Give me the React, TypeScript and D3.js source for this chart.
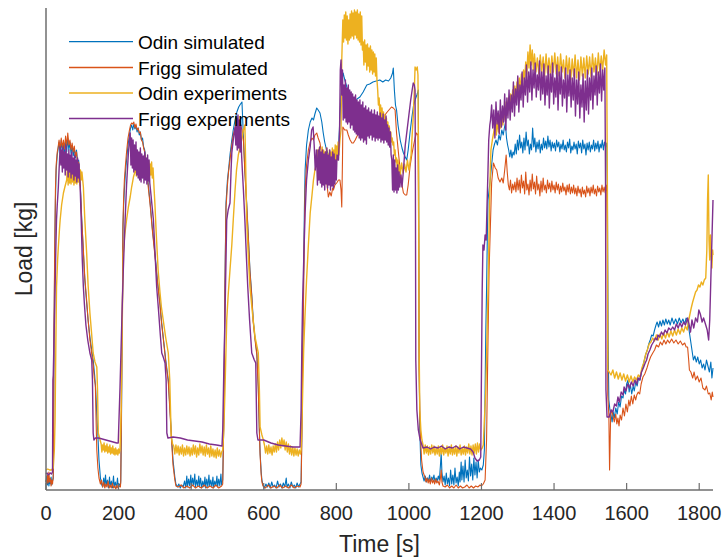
import React from "react";
import * as d3 from "d3";

type P = [number, number];

const seriesNames = ["Odin simulated", "Frigg simulated", "Odin experiments", "Frigg experiments"];
const seriesColors = ["#0072BD", "#D95319", "#EDB120", "#7E2F8E"];
const xTicks = [0, 200, 400, 600, 800, 1000, 1200, 1400, 1600, 1800];

// Odin simulated (time [s], load)
const odinSimulated: P[] = [
[0,8],[2,14],[4,5],[6,12],[8,4],[10,10],[12,6],[14,13],[16,5],[18,9],[20,12],
[21,60],[22,150],[24,230],[26,290],[28,320],[31,335],[33,340],
[36,348],[39,336],[42,350],[45,338],[48,346],[51,335],[54,350],[57,338],[60,352],[63,340],[66,348],[69,336],[72,345],[75,334],[78,342],[81,332],[84,340],[87,328],[90,330],[92,318],
[94,310],[98,275],[103,237],[107,210],[112,187],[116,170],[121,153],[126,140],[130,130],[134,115],[137,100],[140,75],[143,55],[146,30],[150,12],[153,6],
[156,3],[159,12],[161,3],[164,15],[166,4],[169,10],[172,2],[175,13],[177,3],[180,9],[183,2],[186,14],[188,3],[191,8],[194,2],[197,12],[199,3],[202,6],[205,4],
[206,10],[208,70],[209,120],[211,200],[212,260],[214,285],[216,300],[219,318],[222,330],[226,345],[230,355],[233,362],
[236,365],[239,360],[242,366],[245,361],[248,364],[251,358],[254,362],[257,355],[260,358],[263,350],[266,352],[269,343],[272,340],[275,330],[278,320],
[282,305],[287,287],[293,262],[300,237],[307,210],[314,187],[318,170],[323,153],[330,130],[337,110],[341,85],[346,53],[350,30],[355,13],[358,6],
[362,3],[366,6],[370,2],[374,5],[378,3],[382,9],[385,2],[388,14],[390,3],[393,11],[396,4],[399,15],[401,3],[404,12],[407,5],[410,16],[412,3],[415,10],[418,4],[421,14],[423,3],[426,12],[429,2],[432,9],[435,3],[438,13],[440,2],[443,11],[446,3],[449,15],[451,4],[454,10],[457,3],[460,13],[462,2],[465,9],[468,4],[471,14],[473,3],[476,11],[479,4],[482,16],[484,5],[487,10],
[489,50],[491,103],[493,203],[496,287],[500,310],[503,320],[507,335],[512,350],[516,360],[521,370],[526,378],[531,383],[536,386],[540,388],
[544,353],[548,320],[553,287],[558,250],[562,220],[567,195],[571,170],[576,152],[581,137],[585,103],[588,60],[590,37],[593,18],[595,10],[598,5],
[602,2],[606,6],[610,3],[614,7],[618,2],[622,8],[626,3],[630,5],[634,2],[638,9],[642,3],[646,6],[650,2],[654,7],[658,3],[662,12],[664,3],[668,6],[672,2],[676,8],[680,3],[684,5],[688,2],[692,7],[696,3],[700,6],[703,8],
[705,60],[707,140],[710,220],[712,280],[714,320],[718,345],[723,360],[728,368],[733,372],[737,370],[741,376],[746,382],[750,380],[755,377],[760,368],[764,357],[768,348],[773,340],[778,336],[784,334],[792,333],[798,336],[806,340],[810,373],[813,395],[816,410],[819,417],[822,412],[825,408],[829,403],[833,395],[838,390],[843,388],[850,390],[857,391],[865,393],[874,398],[884,405],[892,406],[901,408],[910,409],[920,410],[928,408],[936,410],[944,409],[950,412],[955,417],[957,422],[960,400],[963,385],[966,380],[970,365],[976,350],[981,342],[985,337],[990,333],[994,330],[998,340],[1003,357],[1008,372],[1013,385],[1017,390],[1022,395],[1026,400],[1027,300],
[1028,150],[1030,60],[1033,25],[1036,17],[1039,13],
[1042,9],[1045,14],[1048,8],[1051,12],[1054,9],[1057,15],[1060,8],[1063,13],[1066,10],[1069,15],[1072,8],[1075,12],[1078,9],[1081,14],[1084,10],[1087,25],[1089,37],[1091,18],[1094,8],[1097,14],[1100,5],[1103,17],[1106,6],[1109,12],[1112,4],[1115,20],[1118,6],[1121,15],[1124,5],[1127,22],[1130,7],[1133,13],[1136,4],[1139,18],[1141,8],[1144,28],[1146,10],[1149,24],[1152,8],[1155,30],[1158,12],[1161,20],[1164,9],[1167,33],[1170,14],[1173,26],[1176,10],[1179,32],[1182,15],[1185,28],[1188,12],[1191,30],[1194,18],[1197,22],[1201,20],[1205,25],[1208,40],
[1210,100],[1212,160],[1214,200],[1216,250],[1218,290],[1221,300],[1224,310],[1228,325],[1232,340],[1236,346],[1240,350],[1244,345],[1248,355],[1252,350],[1256,360],[1260,355],[1263,362],[1266,367],[1269,352],[1272,345],[1275,340],[1278,333],[1281,340],[1284,332],[1287,338],[1290,335],
[1293,346],[1296,336],[1299,350],[1302,340],[1305,355],[1308,342],[1311,348],[1314,337],[1317,352],[1320,340],[1323,358],[1326,344],[1329,350],[1332,336],[1335,346],[1338,340],[1341,362],[1344,343],[1347,352],[1350,338],[1353,348],[1356,341],[1359,350],[1362,337],[1365,346],[1368,340],[1371,352],[1374,342],[1377,349],[1380,341],[1383,354],[1386,343],[1389,350],[1392,339],[1395,348],[1398,342],[1401,347],[1404,339],[1407,350],[1410,343],[1413,348],[1416,338],[1419,346],[1422,341],[1425,350],[1428,340],[1431,345],[1434,338],[1437,348],[1440,342],[1443,351],[1446,337],[1449,344],[1452,340],[1455,348],[1458,341],[1461,346],[1464,336],[1467,349],[1470,342],[1473,347],[1476,337],[1479,350],[1482,341],[1485,346],[1488,335],[1491,347],[1494,340],[1497,348],[1500,338],[1503,345],[1506,341],[1509,350],[1512,339],[1515,347],[1518,341],[1521,349],[1524,338],[1527,346],[1530,342],[1533,350],[1536,340],[1539,348],[1542,343],[1545,347],
[1547,300],[1549,150],[1551,90],[1554,80],
[1557,75],[1560,68],[1563,78],[1566,72],[1570,82],[1574,76],[1578,88],[1582,83],[1586,94],[1590,92],[1593,100],[1597,96],[1600,106],[1604,110],[1607,98],[1610,106],[1614,96],[1618,104],[1621,99],[1625,108],[1629,104],[1633,112],[1637,110],[1641,118],[1645,124],[1649,130],[1653,136],[1657,140],[1661,146],[1665,150],[1669,155],[1673,154],[1677,160],[1681,165],[1684,168],[1688,163],[1692,169],[1696,164],[1700,170],[1704,165],[1708,171],[1712,166],[1716,170],[1720,165],[1725,172],[1730,166],[1735,171],[1740,166],[1745,172],[1750,167],[1755,171],[1760,166],[1764,172],[1768,170],[1772,160],[1776,150],[1780,140],[1784,130],[1788,134],[1792,128],[1796,133],[1800,126],[1804,130],[1808,122],[1812,126],[1816,120],[1820,130],[1824,124],[1828,118],[1832,128],[1835,112],[1838,122]
];

// Frigg simulated
const friggSimulated: P[] = [
[0,10],[2,6],[4,15],[6,7],[8,18],[10,8],[12,12],[14,4],[16,10],[18,6],[20,14],
[21,70],[22,160],[24,240],[26,300],[28,325],[31,338],[33,342],
[36,350],[39,340],[42,352],[45,342],[48,350],[51,341],[54,354],[57,344],[60,357],[63,345],[66,350],[69,340],[72,347],[75,338],[78,344],[81,334],[84,338],[87,326],[90,328],[92,316],
[94,308],[98,272],[103,240],[107,212],[112,190],[116,170],[121,150],[126,136],[130,125],[133,112],[136,105],[138,70],[140,40],[143,22],[146,12],[150,6],
[153,10],[156,3],[159,8],[162,2],[165,6],[168,3],[171,9],[174,2],[177,5],[180,2],[183,7],[186,2],[189,4],[192,1],[195,5],[198,2],[201,4],[205,3],
[206,8],[208,80],[209,130],[211,210],[212,265],[214,292],[216,310],[219,325],[222,338],[226,352],[230,360],[233,365],[236,367],[239,366],[242,368],[245,362],[248,366],[251,360],[254,362],[257,357],[260,358],[263,350],[266,348],[269,342],[272,338],[275,327],[278,318],
[282,302],[287,285],[293,260],[300,235],[307,208],[314,185],[318,168],[323,152],[330,128],[337,108],[341,82],[346,50],[350,25],[355,10],[358,4],
[365,3],[372,5],[380,2],[388,4],[396,2],[404,5],[412,2],[420,4],[428,2],[436,5],[444,2],[452,4],[460,2],[468,5],[476,2],[484,4],[487,6],
[489,50],[491,100],[493,200],[496,282],[500,305],[503,318],[507,330],[512,345],[516,355],[521,362],[526,366],[531,367],[536,365],[540,360],[544,350],[548,318],[553,285],[558,248],[562,218],[567,193],[571,168],[576,150],[581,135],[585,100],[588,58],[590,35],[593,15],[595,8],[598,4],
[605,2],[612,5],[620,2],[628,4],[636,2],[644,5],[652,2],[660,4],[668,2],[676,5],[684,2],[692,4],[700,3],[703,6],
[705,50],[707,120],[710,200],[712,260],[714,300],[718,325],[723,340],[728,348],[733,352],[737,350],[741,355],[746,357],[750,352],[755,347],[760,335],[764,323],[768,315],[773,310],[776,300],[778,293],[782,298],[786,294],[790,302],[792,300],[796,305],[801,307],[806,310],[810,310],[813,300],[815,283],[817,330],[818,363],[823,360],[829,360],[833,355],[838,350],[843,347],[847,347],[852,350],[856,353],[860,356],[865,358],[870,360],[875,358],[884,360],[893,361],[902,363],[911,365],[920,367],[929,372],[938,377],[945,380],[952,383],[957,382],[962,380],[966,357],[971,338],[976,320],[981,305],[985,297],[990,295],[994,295],[998,305],[1003,323],[1008,335],[1012,343],[1017,352],[1021,357],[1025,355],[1027,250],
[1028,120],[1031,60],[1035,30],[1039,18],[1044,13],
[1047,8],[1050,12],[1053,7],[1056,11],[1059,6],[1062,12],[1065,7],[1068,10],[1071,6],[1074,11],[1077,7],[1080,9],[1084,5],[1087,12],[1089,20],[1091,8],[1094,4],[1100,3],[1106,5],[1112,2],[1118,4],[1124,2],[1130,5],[1136,2],[1142,4],[1148,2],[1154,3],[1160,5],[1166,2],[1172,4],[1178,2],[1184,4],[1190,3],[1196,5],[1200,4],[1205,6],[1210,10],
[1214,50],[1218,150],[1221,220],[1224,257],[1228,307],[1233,327],[1238,322],[1242,320],[1246,312],[1251,308],[1256,312],[1260,307],[1264,320],[1268,335],[1271,318],[1274,305],[1277,300],[1280,310],[1283,297],[1286,306],[1289,300],
[1292,308],[1295,298],[1298,312],[1301,300],[1304,310],[1307,297],[1310,315],[1313,302],[1316,309],[1319,296],[1322,318],[1325,300],[1328,306],[1331,295],[1334,310],[1337,299],[1340,316],[1343,301],[1346,308],[1349,296],[1352,314],[1355,300],[1358,306],[1361,294],[1364,309],[1367,298],[1370,312],[1373,300],[1376,305],[1379,297],[1382,310],[1385,301],[1388,307],[1391,298],[1394,309],[1397,300],[1400,305],[1403,297],[1406,308],[1409,300],[1412,306],[1415,296],[1418,304],[1421,298],[1424,307],[1427,299],[1430,303],[1433,295],[1436,305],[1439,298],[1442,306],[1445,296],[1448,303],[1451,297],[1454,305],[1457,296],[1460,302],[1463,294],[1466,304],[1469,297],[1472,301],[1475,293],[1478,303],[1481,296],[1484,300],[1487,293],[1490,304],[1493,297],[1496,302],[1499,294],[1502,303],[1505,297],[1508,305],[1511,296],[1514,301],[1517,294],[1520,304],[1523,298],[1526,302],[1529,295],[1532,305],[1535,298],[1538,303],[1541,297],[1545,305],
[1547,250],[1548,95],[1551,75],[1553,20],[1556,75],[1559,80],
[1562,75],[1566,68],[1570,76],[1573,66],[1576,72],[1579,64],[1582,75],[1586,70],[1590,82],[1594,74],[1598,86],[1602,78],[1606,90],[1609,84],[1613,94],[1617,86],[1621,95],[1625,90],[1628,95],[1632,98],[1636,96],[1640,106],[1645,113],[1650,116],[1656,122],[1661,128],[1666,133],[1672,137],[1677,140],[1682,145],[1688,143],[1693,148],[1698,145],[1703,150],[1708,146],[1713,150],[1718,147],[1724,151],[1730,147],[1736,150],[1742,146],[1748,149],[1754,145],[1760,147],[1764,143],[1768,143],[1771,130],[1773,120],[1777,118],[1782,112],[1786,118],[1790,110],[1795,114],[1800,108],[1805,112],[1810,102],[1816,100],[1820,104],[1825,96],[1829,97],[1833,90],[1836,98],[1838,93]
];

// Odin experiments
const odinExperiments: P[] = [
[0,20],[5,21],[10,20],[15,20],[20,22],[23,40],[25,70],[27,140],[29,203],[32,230],[34,243],[37,260],[39,270],[43,285],[48,297],[52,303],[57,310],
[59,322],[61,305],[63,325],[65,307],[67,323],[69,306],[71,325],[73,308],[75,322],[77,305],[79,324],[81,307],[83,320],[85,306],[87,324],[89,308],[91,322],[93,305],[95,320],[97,310],[99,318],
[103,303],[107,270],[112,237],[116,205],[121,177],[126,155],[130,137],[135,128],[140,123],[142,100],[144,57],[149,50],
[152,46],[154,38],[156,45],[158,40],[160,47],[162,38],[164,44],[166,39],[168,46],[170,37],[172,43],[174,38],[176,45],[178,36],[180,42],[182,37],[184,44],[186,36],[188,41],[190,35],[192,42],[194,36],[196,40],[198,35],[200,41],[202,37],[204,40],
[207,80],[209,137],[211,190],[213,237],[217,255],[222,270],[227,283],[232,293],[236,303],[241,313],[245,318],
[247,328],[249,314],[251,330],[253,316],[255,332],[257,315],[259,330],[261,313],[263,329],[265,316],[267,331],[269,314],[271,328],[273,315],[275,330],[277,312],[279,327],[281,316],[283,329],[285,313],[287,326],[289,315],[291,328],[293,312],[295,322],
[298,300],[300,287],[304,255],[309,220],[314,198],[318,183],[323,170],[330,152],[337,137],[341,110],[345,53],[349,46],
[352,44],[355,36],[358,45],[361,37],[364,44],[367,35],[370,43],[373,36],[376,45],[379,34],[382,42],[385,35],[388,44],[391,36],[394,43],[397,34],[400,42],[403,35],[406,45],[409,36],[412,44],[415,33],[418,42],[421,35],[424,46],[427,37],[430,44],[433,35],[436,43],[439,34],[442,45],[445,36],[448,42],[451,33],[454,44],[457,34],[460,41],[463,33],[466,40],[469,32],[472,42],[475,34],[478,40],[481,33],[484,38],[487,40],
[490,60],[493,97],[496,140],[498,170],[502,195],[507,220],[512,245],[516,270],[521,300],[525,320],[530,335],[535,343],[540,352],[544,360],[548,365],[550,330],
[553,270],[558,230],[562,203],[568,180],[576,153],[585,137],[588,100],[590,63],[595,55],[599,50],
[602,45],[605,37],[608,44],[611,36],[614,45],[617,37],[620,43],[623,35],[626,44],[629,38],[632,46],[635,38],[638,48],[641,40],[644,50],[647,42],[650,52],[653,44],[656,50],[659,40],[662,48],[665,38],[668,46],[671,36],[674,44],[677,35],[680,43],[683,34],[686,42],[689,35],[692,41],[695,34],[698,40],[701,36],[703,40],
[706,77],[710,140],[714,177],[718,210],[723,245],[728,277],[733,295],[737,310],[741,320],[746,327],
[749,340],[751,318],[753,342],[755,320],[757,338],[759,317],[761,343],[763,320],[765,340],[767,316],[769,338],[771,320],[773,342],[775,318],[777,336],[779,316],[781,340],[783,320],[785,338],[787,318],[789,342],[791,321],[793,340],[795,324],[797,345],[799,326],[801,344],[803,330],[805,348],[807,335],[810,350],
[813,360],[815,430],[818,470],
[820,448],[822,475],[824,452],[826,478],[828,450],[830,474],[832,446],[834,470],[836,450],[838,476],[840,452],[842,479],[844,454],[846,477],[848,451],[850,480],[852,455],[854,478],[856,452],[858,480],[860,450],[862,476],[864,448],[866,478],[868,445],[870,474],[872,440],
[874,448],[876,425],[878,450],[880,428],[882,445],[884,420],[886,446],[888,424],[890,442],[892,418],[894,444],[896,420],[898,440],[900,416],[902,438],[904,418],[906,436],[908,414],[910,432],[912,410],
[914,400],[916,385],[918,392],[920,375],[922,385],[924,370],[926,382],[928,366],[930,378],[932,364],[934,375],[936,362],[938,372],[940,360],[942,368],[944,355],[946,364],[948,352],[950,358],[952,348],[954,352],[956,345],[958,348],[960,335],[962,340],[964,328],[966,332],[968,320],[970,330],[972,318],[974,325],[976,315],[980,327],[984,317],[988,326],[992,318],[996,330],[1000,320],[1003,328],[1006,335],[1009,355],[1012,373],[1015,400],[1017,423],[1020,420],[1023,423],[1025,415],[1027,300],
[1028,150],[1030,80],[1033,60],[1036,50],[1039,45],
[1042,36],[1045,45],[1048,37],[1051,44],[1054,35],[1057,43],[1060,36],[1063,45],[1066,37],[1069,44],[1072,35],[1075,42],[1078,36],[1081,44],[1084,34],[1087,43],[1090,36],[1093,45],[1096,35],[1099,42],[1102,37],[1105,44],[1108,34],[1111,43],[1114,36],[1117,45],[1120,35],[1123,42],[1126,36],[1129,44],[1132,34],[1135,43],[1138,37],[1141,45],[1144,35],[1147,42],[1150,36],[1153,44],[1156,35],[1159,43],[1162,37],[1165,46],[1168,36],[1171,44],[1174,35],[1177,45],[1180,37],[1183,46],[1186,36],[1189,47],[1192,38],[1195,46],[1198,40],[1202,42],
[1205,45],[1208,70],[1212,100],[1215,150],[1218,200],[1220,240],[1222,280],[1224,315],[1226,340],[1230,350],[1235,360],
[1238,372],[1241,355],[1244,370],[1247,358],[1250,375],[1253,362],[1256,378],[1259,365],[1262,382],[1265,370],[1268,388],[1271,375],[1274,392],[1277,380],[1280,396],[1283,384],[1286,400],[1289,388],[1292,404],[1295,392],[1298,408],[1301,396],[1304,412],[1307,400],[1310,416],[1313,404],[1316,420],[1319,410],[1322,428],[1325,416],[1328,438],[1331,422],[1334,445],[1337,425],[1340,440],[1343,420],[1346,436],
[1350,418],[1354,432],[1358,416],[1362,435],[1366,418],[1370,433],[1374,414],[1378,436],[1382,417],[1386,432],[1390,415],[1394,434],[1398,418],[1402,437],[1406,416],[1410,433],[1414,414],[1418,436],[1422,418],[1426,430],[1430,412],[1434,434],[1438,416],[1442,432],[1446,410],[1450,431],[1454,414],[1458,435],[1462,412],[1466,430],[1470,410],[1474,433],[1478,414],[1482,432],[1486,412],[1490,434],[1494,416],[1498,433],[1502,413],[1506,436],[1510,418],[1514,432],[1518,415],[1522,437],[1526,418],[1530,434],[1534,420],[1538,440],[1542,425],[1545,435],
[1547,300],[1548,120],[1552,118],[1557,115],
[1562,120],[1567,112],[1572,118],[1577,111],[1582,117],[1587,110],[1592,116],[1597,109],[1602,115],[1607,108],[1612,114],[1617,108],[1622,113],[1627,110],[1632,115],[1637,113],[1642,122],[1647,127],[1652,135],[1657,140],[1662,146],[1667,148],[1672,152],[1677,149],[1682,155],[1687,150],[1692,156],[1697,151],[1702,157],[1707,152],[1712,158],[1717,153],[1722,159],[1727,154],[1732,160],[1737,155],[1742,161],[1747,156],[1752,162],[1757,158],[1762,164],[1767,160],[1770,168],[1774,175],[1778,182],[1782,188],[1786,193],[1790,198],[1794,200],[1798,205],[1802,203],[1806,208],[1810,205],[1814,210],[1818,212],[1821,240],[1823,290],[1825,315],[1827,250],[1829,230],[1831,255],[1833,235],[1835,222],[1837,240],[1838,235]
];

// Frigg experiments
const friggExperiments: P[] = [
[0,16],[3,17],[6,15],[9,16],[12,17],[15,16],[18,18],
[19,110],[20,115],[22,150],[25,200],[27,240],[29,270],[31,285],[34,303],[36,320],[39,343],
[41,325],[43,340],[45,318],[47,343],[49,322],[51,338],[53,315],[55,345],[57,320],[59,336],[61,313],[63,340],[65,318],[67,335],[69,312],[71,338],[73,316],[75,332],[77,310],[79,335],[81,314],[83,330],[85,308],[87,332],[89,312],[91,326],[93,310],
[94,305],[97,270],[100,230],[103,203],[106,185],[110,165],[115,150],[121,137],[126,130],[128,110],[130,57],[132,50],[136,52],
[145,52],[155,51],[165,50],[175,49],[185,48],[195,47],[199,47],
[204,103],[209,170],[213,220],[218,270],[222,305],[227,337],[232,357],
[234,325],[236,352],[238,322],[240,350],[242,318],[244,345],[246,320],[248,348],[250,315],[252,340],[254,312],[256,338],[258,310],[260,342],[262,308],[264,336],[266,312],[268,334],[270,307],[272,338],[274,310],[276,332],[278,306],[280,335],[282,309],[284,330],[286,307],
[288,300],[292,285],[296,270],[300,240],[305,203],[310,180],[315,155],[319,137],[324,132],[328,127],[331,110],[333,57],[336,52],
[350,53],[370,52],[390,50],[410,49],[430,48],[450,46],[470,45],[485,44],
[487,60],[490,120],[493,170],[498,270],[502,280],[507,287],[510,320],[512,337],[516,350],[521,363],
[523,345],[525,372],[527,340],[529,375],[531,342],[533,370],[535,338],[537,365],[539,335],
[541,320],[544,300],[548,270],[552,235],[556,203],[561,170],[567,137],[574,130],[578,127],[580,80],[581,57],[584,50],
[600,50],[620,47],[640,45],[660,44],[680,43],[700,43],
[703,80],[705,143],[707,187],[711,240],[714,277],[718,310],[723,330],[728,343],[732,360],[736,363],
[739,345],[742,320],[745,340],
[748,305],[750,340],[752,310],[754,343],[756,307],[758,338],[760,303],[762,340],[764,305],[766,336],[768,300],[770,338],[772,306],[774,342],[776,302],[778,335],[780,305],[782,340],[784,300],[786,333],[788,304],[790,338],[792,302],[794,336],[796,306],[798,330],[800,310],[802,335],
[806,330],[809,360],[811,420],[813,430],[815,395],[817,420],
[819,370],[821,405],[823,372],[825,410],[827,368],[829,402],[831,366],[833,405],[835,368],[837,400],[839,362],[841,398],[843,365],[845,396],[847,360],[849,393],[851,358],[853,395],[855,356],[857,390],[859,355],[861,388],[863,352],[865,390],[867,350],[869,385],[871,352],[873,388],[875,348],[877,382],[879,350],[881,384],[883,346],
[885,380],[887,354],[889,382],[891,352],[893,378],[895,355],[897,380],[899,350],[901,376],[903,353],[905,380],[907,349],[909,375],[911,352],[913,378],[915,350],[917,374],[919,352],[921,377],[923,348],[925,372],[927,350],[929,376],[931,347],[933,370],[935,350],[937,374],[939,348],
[941,365],[943,345],[945,362],[947,343],[949,358],
[951,335],[953,330],[955,300],[957,335],[959,298],[961,330],[963,300],[965,322],[967,297],[969,325],[971,300],[973,318],[975,303],
[978,315],[981,303],[985,320],[990,345],[995,360],[1000,375],[1005,390],[1009,400],[1012,407],[1015,405],[1017,400],
[1018,300],[1019,130],[1022,80],[1026,60],[1031,50],[1039,42],
[1050,43],[1060,41],[1070,43],[1080,42],[1090,44],[1100,41],[1110,43],[1120,42],[1130,44],[1140,41],[1150,43],[1160,42],[1170,41],[1177,38],
[1182,32],[1188,29],[1194,30],[1198,33],
[1200,120],[1202,200],[1204,245],[1207,240],[1210,255],[1213,250],[1215,280],[1218,320],[1220,350],[1223,365],[1225,370],
[1228,385],[1231,362],[1234,380],[1237,352],[1240,388],[1243,366],[1246,379],[1249,356],[1252,390],[1255,363],[1258,384],[1261,368],[1264,396],[1267,360],[1270,392],[1273,372],[1276,400],[1279,370],[1282,395],[1285,378],[1288,408],[1291,374],[1294,401],[1297,385],[1300,414],[1303,378],[1306,405],[1309,390],[1312,418],[1315,383],[1318,412],[1321,395],[1324,425],[1327,388],[1330,418],[1333,398],[1336,428],[1339,390],[1342,420],[1345,402],[1348,427],[1351,393],[1354,415],[1357,400],[1360,429],[1363,390],[1366,418],[1369,396],[1372,426],[1375,385],[1378,414],[1381,395],[1384,424],[1387,382],[1390,416],[1393,398],[1396,427],[1399,386],[1402,412],[1405,393],[1408,425],[1411,380],[1414,418],[1417,396],[1420,423],[1423,384],[1426,410],[1429,392],[1432,422],[1435,378],[1438,415],[1441,394],[1444,420],[1447,383],[1450,412],[1453,390],[1456,421],[1459,374],[1462,410],[1465,386],[1468,418],[1471,372],[1474,405],[1477,383],[1480,416],[1483,368],[1486,409],[1489,380],[1492,420],[1495,376],[1498,412],[1501,390],[1504,422],[1507,381],[1510,414],[1513,395],[1516,424],[1519,385],[1522,418],[1525,397],[1528,426],[1531,389],[1534,420],[1537,400],[1540,422],
[1542,300],[1543,100],[1546,73],[1552,73],[1557,80],
[1562,78],[1567,86],[1572,84],[1576,93],[1580,88],[1585,98],[1590,95],[1593,103],[1598,99],[1603,106],[1608,102],[1613,108],[1618,104],[1623,110],[1628,106],[1631,112],[1636,110],[1641,118],[1646,122],[1650,126],[1655,130],[1659,136],[1664,140],[1669,145],[1674,148],[1679,152],[1684,150],[1686,155],[1691,153],[1696,158],[1701,155],[1706,160],[1711,157],[1716,162],[1722,160],[1727,163],[1732,160],[1737,166],[1742,162],[1747,167],[1752,163],[1757,168],[1762,165],[1768,172],[1772,166],[1776,158],[1780,170],[1785,162],[1790,172],[1795,168],[1799,180],[1803,176],[1808,168],[1812,172],[1818,165],[1822,160],[1826,150],[1829,170],[1832,210],[1835,250],[1838,290]
];

const allSeries = [odinSimulated, friggSimulated, odinExperiments, friggExperiments];

const W = 727;
const H = 560;
const plot = { left: 46, right: 713, top: 8, bottom: 490 };
const FONT = "'Liberation Sans', Arial, Helvetica, sans-serif";

export default function App() {
  const x = d3.scaleLinear().domain([0, 1838]).range([plot.left, plot.right]);
  const y = d3.scaleLinear().domain([0, 482]).range([plot.bottom, plot.top]);
  const line = d3
    .line<P>()
    .x((d) => x(d[0]))
    .y((d) => y(d[1]));

  const widths = [1.1, 1.1, 1.4, 1.4];
  const legendY = [41.7, 67.5, 93, 118.5];

  return (
    <svg
      width={W}
      height={H}
      viewBox={`0 0 ${W} ${H}`}
      style={{ position: "absolute", left: 0, top: 0, background: "#fff" }}
    >
      <rect x={0} y={0} width={W} height={H} fill="#fff" />
      {allSeries.map((s, i) => (
        <path
          key={i}
          d={line(s) || ""}
          fill="none"
          stroke={seriesColors[i]}
          strokeWidth={widths[i]}
          strokeLinejoin="round"
        />
      ))}
      {/* axes */}
      <line x1={plot.left} x2={plot.right} y1={plot.bottom} y2={plot.bottom} stroke="#6e6e6e" strokeWidth={1.5} />
      <line x1={plot.left} x2={plot.left} y1={plot.top} y2={plot.bottom} stroke="#6e6e6e" strokeWidth={1.5} />
      {xTicks.map((t) => (
        <g key={t}>
          <line x1={x(t)} x2={x(t)} y1={plot.bottom} y2={plot.bottom - 7} stroke="#6e6e6e" strokeWidth={1.2} />
          <text x={x(t)} y={520} textAnchor="middle" fontFamily={FONT} fontSize={20} fill="#262626">
            {t}
          </text>
        </g>
      ))}
      <text x={(plot.left + plot.right) / 2} y={552} textAnchor="middle" fontFamily={FONT} fontSize={23} fill="#262626">
        Time [s]
      </text>
      <text
        transform={`translate(32, ${(plot.top + plot.bottom) / 2}) rotate(-90)`}
        textAnchor="middle"
        fontFamily={FONT}
        fontSize={23}
        fill="#262626"
      >
        Load [kg]
      </text>
      {/* legend */}
      {seriesNames.map((n, i) => (
        <g key={n}>
          <line x1={69} x2={133} y1={legendY[i]} y2={legendY[i]} stroke={seriesColors[i]} strokeWidth={1.3} />
          <text x={138} y={legendY[i] + 7} fontFamily={FONT} fontSize={19} fill="#000">
            {n}
          </text>
        </g>
      ))}
    </svg>
  );
}
